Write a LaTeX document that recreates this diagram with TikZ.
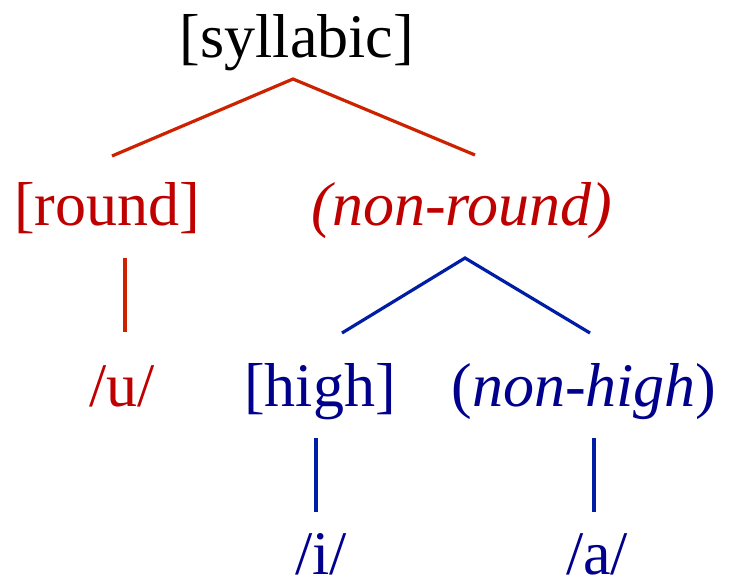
\documentclass[tikz,border=0pt]{standalone}
\usepackage{fontspec}
\setmainfont{Liberation Serif}
\definecolor{redtext}{RGB}{190,0,0}
\definecolor{redline}{RGB}{204,34,0}
\definecolor{bluetext}{RGB}{0,0,140}
\definecolor{blueline}{RGB}{0,30,165}
\tikzset{
  lbl/.style={anchor=base,inner sep=0pt,font=\fontsize{62}{70}\selectfont},
  redlbl/.style={lbl,text=redtext},
  bluelbl/.style={lbl,text=bluetext},
  rededge/.style={draw=redline,line width=3.2pt},
  blueedge/.style={draw=blueline,line width=3.2pt}
}
\begin{document}
\begin{tikzpicture}[x=1pt,y=-1pt]
\useasboundingbox (0,0) rectangle (730,586);
\node[lbl] (syl) at (297,58) {[syllabic]};
\node[redlbl] (round) at (107,225) {[round]};
\node[redlbl] (nonround) at (462,225) {\itshape (non-round)};
\node[redlbl] (u) at (122,406) {/u/};
\node[bluelbl] (high) at (320,406) {[high]};
\node[bluelbl] (nonhigh) at (584,406) {(\textit{non-high})};
\node[bluelbl] (i) at (321,574) {/i/};
\node[bluelbl] (a) at (597,574) {/a/};
% connector end points
\coordinate (sylb) at (293,79);
\coordinate (roundt) at (112,156);
\coordinate (nonroundt) at (475,155);
\coordinate (roundb) at (125,258);
\coordinate (ut) at (125,332);
\coordinate (nonroundb) at (465,258);
\coordinate (hight) at (342,333);
\coordinate (nonhight) at (590,333);
\coordinate (highb) at (316,438);
\coordinate (it) at (316,512);
\coordinate (nonhighb) at (594,438);
\coordinate (at) at (594,512);
\draw[rededge] (roundt) -- (sylb) -- (nonroundt);
\draw[rededge] (roundb) -- (ut);
\draw[blueedge] (hight) -- (nonroundb) -- (nonhight);
\draw[blueedge] (highb) -- (it);
\draw[blueedge] (nonhighb) -- (at);
\end{tikzpicture}
\end{document}
